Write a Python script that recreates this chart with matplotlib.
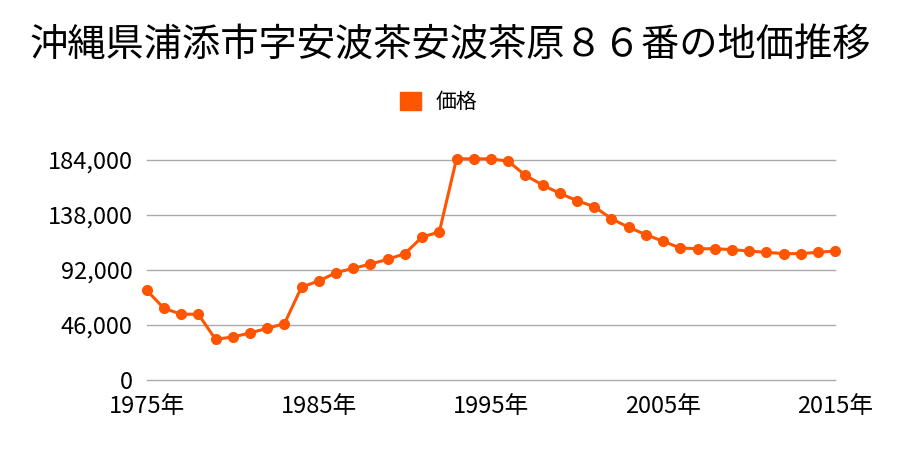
import matplotlib
matplotlib.use("Agg")
import matplotlib.pyplot as plt

plt.rcParams['font.family'] = ['Noto Sans CJK JP', 'DejaVu Sans']

title = "沖縄県浦添市字安波茶安波茶原８６番の地価推移"
years = list(range(1975, 2016))
prices = [75000, 60000, 55000, 55000, 34000, 36000, 39300, 43200, 47100,
          77800, 82800, 89800, 93400, 97000, 100900, 105700, 119600, 123800,
          185000, 185000, 185000, 183000, 171200, 163100, 156100, 150000,
          145000, 134900, 127700, 121600, 116000, 110400, 109800, 109800,
          109000, 107900, 106800, 105700, 105700, 106800, 107900]
yticks = [0, 46000, 92000, 138000, 184000]
xticks = [1975, 1985, 1995, 2005, 2015]

color = '#ff5500'

fig = plt.figure(figsize=(9, 4.5), dpi=100)
ax = fig.add_axes([0.163, 0.1556, 0.765, 0.4888])

ax.plot(years, prices, color=color, linewidth=2.2, marker='o',
        markersize=7, label='価格', zorder=3, clip_on=False)

ax.set_xlim(1975, 2015)
ax.set_ylim(0, 184000)
ax.set_yticks(yticks)
ax.set_yticklabels([f"{v:,}" for v in yticks])
ax.set_xticks(xticks)
ax.set_xticklabels([f"{y}年" for y in xticks])
ax.tick_params(axis='both', length=0, labelsize=17, colors='black')
ax.tick_params(axis='y', pad=10)
ax.tick_params(axis='x', pad=11)
ax.grid(axis='y', color='#aaaaaa', linewidth=1)
for gl in ax.get_ygridlines():
    gl.set_clip_on(False)
ax.set_axisbelow(True)
for s in ax.spines.values():
    s.set_visible(False)

fig.text(0.5, 0.90, title, ha='center', va='center', fontsize=27.5)
fig.legend(loc='center', bbox_to_anchor=(0.487, 0.773), frameon=False,
           fontsize=15, handlelength=1.0, handleheight=1.0, handletextpad=0.7,
           handles=[plt.Rectangle((0, 0), 1, 1, color=color)], labels=['価格'])

fig.savefig("out.png", dpi=100)
